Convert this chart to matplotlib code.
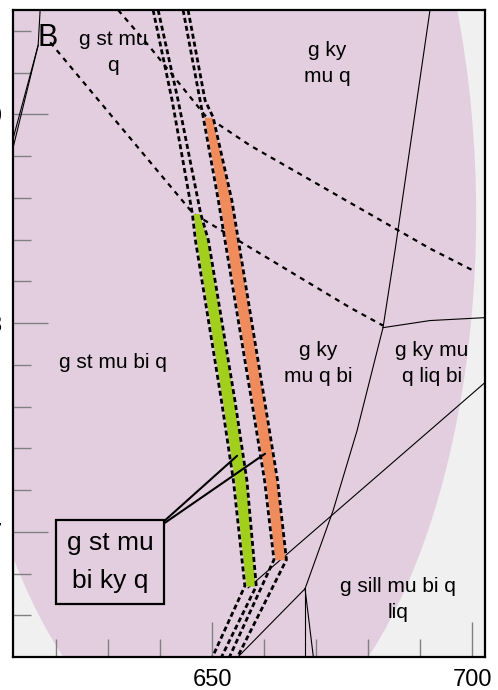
import matplotlib.pyplot as plt
from matplotlib.patches import Ellipse
import numpy as np

plt.rcParams['font.family'] = ['Liberation Sans', 'DejaVu Sans']

# T in deg C, P in kbar
x_lim = (611.7, 702.5)
y_lim = (6.4, 9.5)
x_major = [650, 700]
x_minor = list(range(620, 701, 10))
y_major = [7, 8, 9]
y_minor = [6.6, 6.8, 7.2, 7.4, 7.6, 7.8, 8.2, 8.4, 8.6, 8.8, 9.2, 9.4]

# outline of the shaded field (ellipse)
field_T0, field_P0 = 650.7, 8.52
field_dT, field_dP = 100.2, 5.23

# green narrow field, bounded by two dashed lines
green_P = [9.50, 9.067, 8.525, 8.396, 7.628, 7.245, 6.74, 6.396]
green_T_lo = [638.65, 642.31, 646.2, 646.8, 651.8, 654.1, 656.3, 650.0]
green_T_hi = [639.62, 643.46, 647.8, 649.3, 654.4, 656.7, 658.5, 651.73]
green_range = (6.74, 8.525)

# orange narrow field
orange_P = [9.50, 9.067, 8.986, 8.588, 7.628, 7.245, 6.866, 6.396]
orange_T_lo = [644.42, 647.69, 648.3, 651.2, 657.6, 660.1, 661.9, 653.27]
orange_T_hi = [645.38, 648.65, 650.2, 653.8, 660.1, 662.6, 664.3, 654.81]
orange_range = (6.866, 8.986)

# dashed reactions
dashC_T = [631.92, 638.08, 648.65, 657.31, 691.92, 700.19]
dashC_P = [9.50, 9.321, 8.995, 8.851, 8.357, 8.252]
dashD_T = [618.85, 646.35, 657.31, 666.92, 676.54, 682.88]
dashD_P = [9.345, 8.525, 8.362, 8.218, 8.074, 7.988]

# solid reactions
r1_T = [691.92, 685.19, 682.88, 677.88, 673.27, 667.88]
r1_P = [9.50, 8.348, 7.978, 7.484, 7.101, 6.727]
r2_T = [682.88, 691.92, 702.5]
r2_P = [7.978, 8.012, 8.026]
r3_T = [702.5, 656.92]
r3_P = [7.715, 6.731]
r4_T = [667.88, 667.88]
r4_P = [6.727, 6.396]
r5_T = [667.88, 669.5]
r5_P = [6.727, 6.396]
r6_T = [667.88, 654.81]
r6_P = [6.727, 6.396]
r7_T = [616.92, 616.54, 611.73]
r7_P = [9.50, 9.331, 8.842]
r8_T = [616.54, 611.73]
r8_P = [9.331, 8.885]

labels = ['g st mu\nq', 'g ky\nmu q', 'g st mu bi q', 'g ky\nmu q bi',
          'g ky mu\nq liq bi', 'g sill mu bi q\nliq']
label_T = [630.96, 672.1, 630.96, 670.38, 692.31, 685.77]
label_P = [9.297, 9.245, 7.811, 7.806, 7.806, 6.674]

box_text = 'g st mu\nbi ky q'
box_T, box_P = 630.38, 6.856
leader_T = [654.81, 660.19]
leader_P = [7.364, 7.374]

fig = plt.figure(figsize=(4.98, 6.9), dpi=100)
ax = fig.add_axes([13/498, 33/690, 472/498, 647/690])
ax.set_facecolor('#f0f0f0')
ax.set_xlim(x_lim)
ax.set_ylim(y_lim)

ax.add_patch(Ellipse((field_T0, field_P0), field_dT, field_dP,
                     facecolor='#e3cee0', edgecolor='none', zorder=0))

thin = dict(color='black', lw=0.8, zorder=2)
for T, P in [(r1_T, r1_P), (r2_T, r2_P), (r3_T, r3_P), (r4_T, r4_P),
             (r5_T, r5_P), (r6_T, r6_P), (r7_T, r7_P), (r8_T, r8_P)]:
    ax.plot(T, P, **thin)

ax.plot(dashC_T, dashC_P, color='black', lw=1.6, ls=(0, (2.3, 2.3)), zorder=3)
ax.plot(dashD_T, dashD_P, color='black', lw=1.6, ls=(0, (2.3, 2.3)), zorder=3)

for P, lo, hi, rng, col in [(green_P, green_T_lo, green_T_hi, green_range, '#a2cf1c'),
                             (orange_P, orange_T_lo, orange_T_hi, orange_range, '#f08c5c')]:
    P = np.array(P)
    lo = np.array(lo)
    hi = np.array(hi)
    mask = (P >= rng[0] - 1e-6) & (P <= rng[1] + 1e-6)
    ax.fill_betweenx(P, lo + 0.2, hi - 0.2, where=mask, color=col, lw=0, zorder=3)
    ax.plot(lo, P, color='black', lw=2.0, ls=(0, (1.8, 1.1)), zorder=4)
    ax.plot(hi, P, color='black', lw=2.0, ls=(0, (1.8, 1.1)), zorder=4)

for s, T, P in zip(labels, label_T, label_P):
    ax.text(T, P, s, fontsize=15, ha='center', va='center', linespacing=1.45, zorder=5)

ax.text(618.27, 9.365, 'B', fontsize=22, ha='center', va='center', zorder=5)

box = dict(boxstyle='square,pad=0.4', fc='#e3cee0', ec='black', lw=1.6)
for i, (T, P) in enumerate(zip(leader_T, leader_P)):
    ax.annotate(box_text, xy=(T, P), xytext=(box_T, box_P), fontsize=19,
                ha='center', va='center', linespacing=1.75,
                color='black' if i == 0 else 'none',
                bbox=box if i == 0 else dict(boxstyle='square,pad=0.4', fc='none', ec='none'),
                arrowprops=dict(arrowstyle='-', color='black', lw=1.5,
                                relpos=(1, 1), shrinkA=0, shrinkB=0),
                zorder=6)

ax.set_xticks(x_major)
ax.set_xticks(x_minor, minor=True)
ax.set_yticks(y_major)
ax.set_yticks(y_minor, minor=True)
ax.set_xticklabels([str(v) for v in x_major])
ax.set_yticklabels([str(v) for v in y_major])
ax.tick_params(which='both', direction='in', color='#808080', width=1)
ax.tick_params(which='major', length=25, labelsize=17)
ax.tick_params(which='minor', length=13)
ax.tick_params(axis='x', which='major', pad=9)
ax.tick_params(axis='y', which='major', pad=7.8)
for sp in ax.spines.values():
    sp.set_linewidth(1.6)
    sp.set_zorder(7)

fig.savefig('out.png', dpi=100)
